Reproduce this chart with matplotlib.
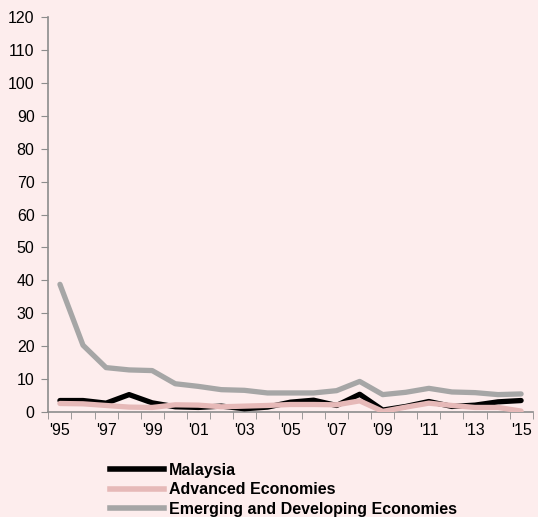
import matplotlib.pyplot as plt
from matplotlib.lines import Line2D

plt.rcParams['font.family'] = ['Liberation Sans', 'DejaVu Sans']

# Datos (inflación, %)
anios = list(range(1995, 2016))
malaysia = [3.5, 3.5, 2.7, 5.3, 2.8, 1.6, 1.4, 1.8, 1.0, 1.5, 3.0,
            3.6, 2.0, 5.4, 0.6, 1.7, 3.2, 1.7, 2.1, 3.1, 3.5]
avanzadas = [2.6, 2.5, 2.0, 1.5, 1.4, 2.2, 2.1, 1.6, 1.8, 2.0, 2.3,
             2.3, 2.2, 3.4, 0.2, 1.5, 2.7, 2.0, 1.4, 1.4, 0.3]
emergentes = [38.8, 20.3, 13.5, 12.8, 12.6, 8.6, 7.8, 6.8, 6.6, 5.8, 5.8,
              5.8, 6.5, 9.3, 5.3, 6.0, 7.2, 6.1, 5.9, 5.3, 5.5]
etiquetas_x = ["'%02d" % (a % 100) if (a - 1995) % 2 == 0 else "" for a in anios]

fondo = '#fdeded'
gris_eje = '#8c8c8c'

fig = plt.figure(figsize=(5.38, 5.17), dpi=100, facecolor=fondo)
ax = fig.add_axes([0.090, 0.203, 0.900, 0.764], facecolor=fondo)

x = list(range(len(anios)))
ax.plot(x, emergentes, color='#a6a6a6', lw=3.8, solid_capstyle='round', zorder=2)
ax.plot(x, malaysia, color='black', lw=3.8, solid_capstyle='round', zorder=3)
ax.plot(x, avanzadas, color='#e6b9b8', lw=3.8, solid_capstyle='round', zorder=4)

ax.set_ylim(0, 120)
ax.set_yticks(range(0, 121, 10))
ax.set_xlim(-0.5, len(anios) - 0.5)
ax.set_xticks(x)
ax.set_xticklabels(etiquetas_x)
ax.tick_params(axis='x', length=0, pad=8, labelsize=11.5)
ax.set_xticks([i - 0.5 for i in range(len(anios) + 1)], minor=True)
ax.tick_params(axis='x', which='minor', length=5, color=gris_eje, direction='out')
ax.tick_params(axis='y', length=5, color=gris_eje, labelsize=11.5, pad=5)

for lado in ['top', 'right']:
    ax.spines[lado].set_visible(False)
for lado in ['left', 'bottom']:
    ax.spines[lado].set_color(gris_eje)
    ax.spines[lado].set_linewidth(1.2)

# Leyenda en la parte inferior
handles = [Line2D([], [], color='black', lw=4),
           Line2D([], [], color='#e6b9b8', lw=4),
           Line2D([], [], color='#a6a6a6', lw=4)]
nombres = ['Malaysia', 'Advanced Economies', 'Emerging and Developing Economies']
fig.legend(handles, nombres, loc='upper left', bbox_to_anchor=(0.204, 0.105),
           frameon=False, prop={'weight': 'bold', 'size': 11.5},
           handlelength=3.4, handletextpad=0.3, labelspacing=0.28,
           borderaxespad=0, borderpad=0)

fig.savefig('out.png', dpi=100, facecolor=fondo)
